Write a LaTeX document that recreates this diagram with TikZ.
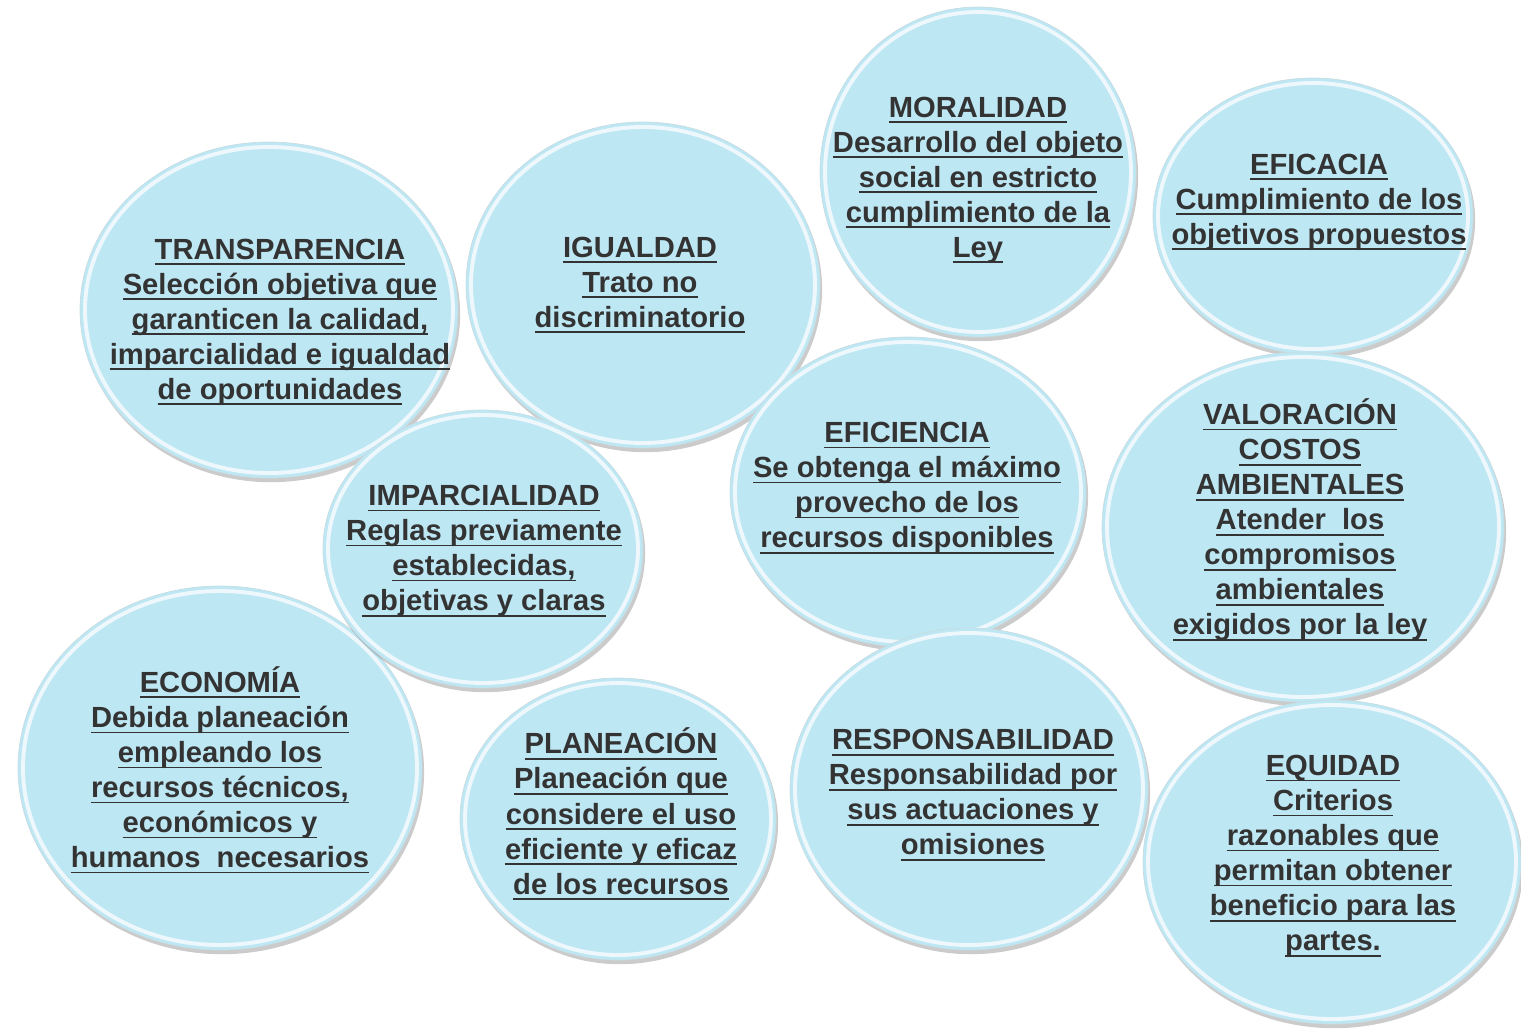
\documentclass[tikz,border=0pt]{standalone}
\usepackage{fontspec}
\setmainfont{Liberation Sans}
\usepackage{tikz}
\usetikzlibrary{shadows}

\definecolor{celeste}{RGB}{190,231,244}
\definecolor{texto}{RGB}{51,51,51}

\newsavebox\cajasub
\newcommand{\subrayar}[1]{\sbox\cajasub{#1}\rlap{\rule[-3.3pt]{\wd\cajasub}{1pt}}\usebox\cajasub}

\begin{document}
\begin{tikzpicture}[x=0.02cm, y=-0.02cm,
	bola/.style={fill=celeste, draw=celeste!85!black!60!white, line width=0.4pt,
		drop shadow={shadow xshift=1.2pt, shadow yshift=-2.4pt, fill=black!45, opacity=0.45}},
	brillo/.style={draw=white, line width=2.2pt, draw opacity=0.75},
	texto/.style={text=texto, align=center, inner sep=0pt,
		font=\bfseries\fontsize{16.6}{19.95}\selectfont}]
	
	\useasboundingbox (0,0) rectangle (1521,1028);
	
	\path[bola] (978,172) ellipse [x radius=158, y radius=165];
	\draw[brillo] (978,172) ellipse [x radius=153, y radius=160];
	\node[texto] (moralidad) at (978,180) {\subrayar{MORALIDAD}\\ \subrayar{Desarrollo del objeto}\\ \subrayar{social en estricto}\\ \subrayar{cumplimiento de la}\\ \subrayar{Ley}};
	
	\path[bola] (1313,216) ellipse [x radius=160, y radius=138];
	\draw[brillo] (1313,216) ellipse [x radius=155, y radius=133];
	\node[texto] (eficacia) at (1319,202) {\subrayar{EFICACIA}\\ \subrayar{Cumplimiento de los}\\ \subrayar{objetivos propuestos}};
	
	\path[bola] (269,310) ellipse [x radius=189, y radius=168];
	\draw[brillo] (269,310) ellipse [x radius=184, y radius=163];
	\node[texto] (transparencia) at (280,322) {\subrayar{TRANSPARENCIA}\\ \subrayar{Selección objetiva que}\\ \subrayar{garanticen la calidad,}\\ \subrayar{imparcialidad e igualdad}\\ \subrayar{de oportunidades}};
	
	\path[bola] (643,285) ellipse [x radius=177, y radius=163];
	\draw[brillo] (643,285) ellipse [x radius=172, y radius=158];
	\node[texto] (igualdad) at (640,285) {\subrayar{IGUALDAD}\\ \subrayar{Trato no}\\ \subrayar{discriminatorio}};
	
	\path[bola] (1303,527) ellipse [x radius=201, y radius=175];
	\draw[brillo] (1303,527) ellipse [x radius=196, y radius=170];
	\node[texto] (valoracion) at (1300,520) {\subrayar{VALORACIÓN}\\ \subrayar{COSTOS}\\ \subrayar{AMBIENTALES}\\ \subrayar{Atender\ \ los}\\ \subrayar{compromisos}\\ \subrayar{ambientales}\\ \subrayar{exigidos por la ley}};
	
	\path[bola] (908,492) ellipse [x radius=178, y radius=155];
	\draw[brillo] (908,492) ellipse [x radius=173, y radius=150];
	\node[texto] (eficiencia) at (907,488) {\subrayar{EFICIENCIA}\\ \subrayar{Se obtenga el máximo}\\ \subrayar{provecho de los}\\ \subrayar{recursos disponibles}};
	
	\path[bola] (220,768) ellipse [x radius=202, y radius=182];
	\draw[brillo] (220,768) ellipse [x radius=197, y radius=177];
	\node[texto] (economia) at (220,770) {\subrayar{ECONOMÍA}\\ \subrayar{Debida planeación}\\ \subrayar{empleando los}\\ \subrayar{recursos técnicos,}\\ \subrayar{económicos y}\\ \subrayar{humanos\ \ necesarios}};
	
	\path[bola] (483,549) ellipse [x radius=160, y radius=139];
	\draw[brillo] (483,549) ellipse [x radius=155, y radius=134];
	\node[texto] (imparcialidad) at (484,551) {\subrayar{IMPARCIALIDAD}\\ \subrayar{Reglas previamente}\\ \subrayar{establecidas,}\\ \subrayar{objetivas y claras}};
	
	\path[bola] (618,819) ellipse [x radius=158, y radius=141];
	\draw[brillo] (618,819) ellipse [x radius=153, y radius=136];
	\node[texto] (planeacion) at (621,814) {\subrayar{PLANEACIÓN}\\ \subrayar{Planeación que}\\ \subrayar{considere el uso}\\ \subrayar{eficiente y eficaz}\\ \subrayar{de los recursos}};
	
	\path[bola] (969,789) ellipse [x radius=179, y radius=161];
	\draw[brillo] (969,789) ellipse [x radius=174, y radius=156];
	\node[texto] (responsabilidad) at (973,795) {\subrayar{RESPONSABILIDAD}\\ \subrayar{Responsabilidad por}\\ \subrayar{sus actuaciones y}\\ \subrayar{omisiones}};
	
	\path[bola] (1332,862) ellipse [x radius=189, y radius=162];
	\draw[brillo] (1332,862) ellipse [x radius=184, y radius=157];
	\node[texto] (equidad) at (1333,856) {\subrayar{EQUIDAD}\\ \subrayar{Criterios}\\ \subrayar{razonables que}\\ \subrayar{permitan obtener}\\ \subrayar{beneficio para las}\\ \subrayar{partes.}};
	
\end{tikzpicture}
\end{document}
